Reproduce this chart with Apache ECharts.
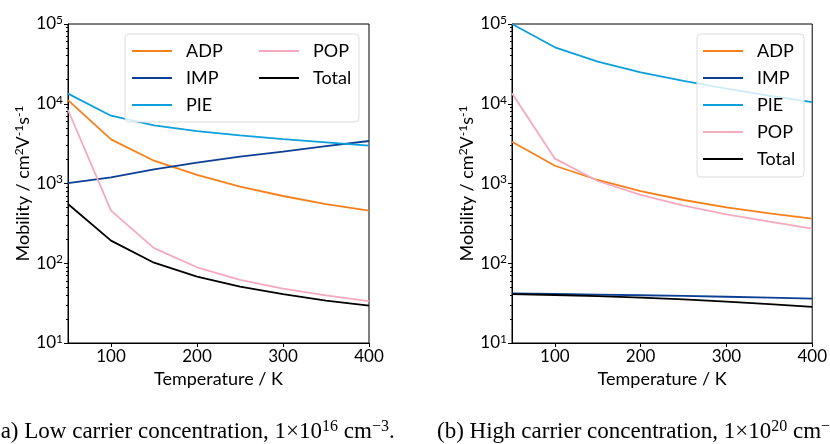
<!DOCTYPE html>
<html>
<head>
<meta charset="utf-8">
<script src="https://cdn.jsdelivr.net/npm/echarts@6/dist/echarts.min.js"></script>
<style>
  html, body { margin: 0; padding: 0; background: #fff; }
  #main { width: 830px; height: 444px; }
</style>
</head>
<body>
<div id="main"></div>
<script>
// temperatures (K)
var temps = [50, 100, 150, 200, 250, 300, 350, 400];

// (a) low carrier concentration
var lowADP   = [11100, 3580, 1930, 1280, 912, 697, 553, 457];
var lowIMP   = [1010, 1195, 1505, 1824, 2170, 2510, 2950, 3410];
var lowPIE   = [13400, 7080, 5370, 4550, 4020, 3610, 3280, 2980];
var lowPOP   = [8350, 457, 155, 89, 61.7, 48, 39.6, 33.6];
var lowTotal = [553, 192, 101.6, 68, 50.8, 41.1, 33.9, 29.4];

// (b) high carrier concentration
var highADP   = [3340, 1670, 1107, 805, 621, 502, 422, 362];
var highIMP   = [42, 41.3, 40.5, 39.7, 38.9, 38, 37, 36];
var highPIE   = [100000, 51000, 33700, 24800, 19300, 15500, 12600, 10500];
var highPOP   = [13500, 2050, 1075, 718, 527, 411, 332, 271];
var highTotal = [41.1, 40, 38.7, 37, 35.2, 33, 30.7, 28.3];

var xTicks = [100, 200, 300, 400];
var yMinor = [20,30,40,50,60,70,80,90,200,300,400,500,600,700,800,900,
              2000,3000,4000,5000,6000,7000,8000,9000,20000,30000,40000,50000,60000,70000,80000,90000];

var names = ['ADP', 'IMP', 'PIE', 'POP', 'Total'];
var colors = ['#f7801a', '#0c3f93', '#0b9fdc', '#f5a9bf', '#000000'];

var sans = 'Lato';
var fs = 17;

function pairs(ys) {
  return temps.map(function (t, i) { return [t, ys[i]]; });
}

function xAxisFor(idx) {
  return {
    gridIndex: idx, type: 'value', min: 50, max: 400,
    name: 'Temperature / K', nameLocation: 'middle', nameGap: 27,
    nameTextStyle: { fontFamily: sans, fontSize: fs + 1, color: '#000' },
    axisLine: { onZero: false, lineStyle: { color: '#000', width: 1 } },
    axisTick: { customValues: xTicks, length: 4, lineStyle: { color: '#000' } },
    axisLabel: { customValues: xTicks, fontFamily: sans, fontSize: fs, color: '#000', margin: 5 },
    splitLine: { show: false }
  };
}

function yAxisFor(idx) {
  return {
    gridIndex: idx, type: 'log', logBase: 10, min: 10, max: 100000, position: 'left',
    name: '{n|Mobility / cm}{s|2}{n|V}{s|-1}{n|s}{s|-1}',
    nameLocation: 'middle', nameGap: 34,
    nameTextStyle: {
      rich: {
        n: { fontFamily: sans, fontSize: fs + 1, color: '#000' },
        s: { fontFamily: sans, fontSize: 12, color: '#000', verticalAlign: 'top', padding: [0, 0, 8, 0] }
      }
    },
    axisLine: { lineStyle: { color: '#000', width: 1 } },
    axisTick: { length: 4, lineStyle: { color: '#000' } },
    axisLabel: {
      margin: 5,
      formatter: function (v) {
        return '{b|10}{s|' + Math.round(Math.log10(v)) + '}';
      },
      rich: {
        b: { fontFamily: sans, fontSize: fs, color: '#000' },
        s: { fontFamily: sans, fontSize: 12, color: '#000', verticalAlign: 'top', padding: [0, 0, 8, 0] }
      }
    },
    splitLine: { show: false }
  };
}

function minorAxisFor(idx) {
  return {
    gridIndex: idx, type: 'log', logBase: 10, min: 10, max: 100000, position: 'left',
    axisLine: { show: false },
    axisTick: { customValues: yMinor, length: 2, lineStyle: { color: '#000' } },
    axisLabel: { show: false },
    splitLine: { show: false }
  };
}

var lowSets = [lowADP, lowIMP, lowPIE, lowPOP, lowTotal];
var highSets = [highADP, highIMP, highPIE, highPOP, highTotal];

var series = [];
[lowSets, highSets].forEach(function (sets, g) {
  sets.forEach(function (ys, i) {
    series.push({
      name: names[i], type: 'line',
      xAxisIndex: g, yAxisIndex: g * 2,
      data: pairs(ys),
      symbol: 'none', smooth: false,
      lineStyle: { color: colors[i], width: 1.8 },
      itemStyle: { color: colors[i] },
      z: 2
    });
  });
});

function legendFor(data, left, top) {
  return {
    data: data, orient: 'vertical', left: left, top: top, padding: 0,
    icon: 'rect', itemWidth: 40, itemHeight: 2, itemGap: 9,
    textStyle: { fontFamily: sans, fontSize: fs + 1, color: '#000', padding: [0, 0, 0, 9] },
    selectedMode: false, z: 6
  };
}

var chart = echarts.init(document.getElementById('main'), null, { renderer: 'canvas' });
chart.setOption({
  backgroundColor: '#fff',
  animation: false,
  grid: [
    { left: 68, top: 24, width: 301, height: 319, show: true, borderColor: '#000', borderWidth: 1, backgroundColor: 'transparent' },
    { left: 512, top: 24, width: 302, height: 319, show: true, borderColor: '#000', borderWidth: 1, backgroundColor: 'transparent' }
  ],
  xAxis: [xAxisFor(0), xAxisFor(1)],
  yAxis: [yAxisFor(0), minorAxisFor(0), yAxisFor(1), minorAxisFor(1)],
  legend: [
    legendFor(['ADP', 'IMP', 'PIE'], 132, 42),
    legendFor(['POP', 'Total'], 259, 42),
    legendFor(['ADP', 'IMP', 'PIE', 'POP', 'Total'], 703, 42)
  ],
  graphic: [
    { type: 'rect', shape: { x: 125, y: 34, width: 234, height: 88, r: 4 }, z: 5,
      style: { fill: 'rgba(255,255,255,0.8)', stroke: '#dcdcdc', lineWidth: 1 } },
    { type: 'rect', shape: { x: 697, y: 34, width: 107, height: 143, r: 4 }, z: 5,
      style: { fill: 'rgba(255,255,255,0.8)', stroke: '#dcdcdc', lineWidth: 1 } },
    { type: 'text', left: -7, top: 419, z: 10,
      style: {
        text: '{n|(a) Low carrier concentration, 1\u00d710}{s|16}{n| cm}{s|\u22123}{n|.}',
        rich: {
          n: { fontFamily: 'Liberation Serif', fontSize: 23, fill: '#000' },
          s: { fontFamily: 'Liberation Serif', fontSize: 16, fill: '#000', verticalAlign: 'top', padding: [0, 0, 10, 0] }
        }
      } },
    { type: 'text', left: 437, top: 419, z: 10,
      style: {
        text: '{n|(b) High carrier concentration, 1\u00d710}{s|20}{n| cm}{s|\u22123}{n|.}',
        rich: {
          n: { fontFamily: 'Liberation Serif', fontSize: 23, fill: '#000' },
          s: { fontFamily: 'Liberation Serif', fontSize: 16, fill: '#000', verticalAlign: 'top', padding: [0, 0, 10, 0] }
        }
      } }
  ],
  series: series
});
</script>
</body>
</html>
